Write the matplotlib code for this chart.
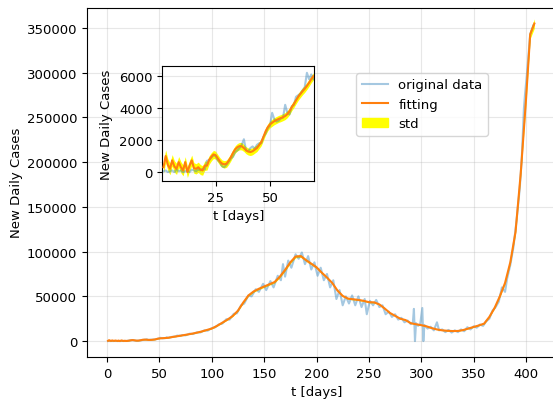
import matplotlib
matplotlib.use("Agg")
import matplotlib.pyplot as plt
from matplotlib.patches import Patch
from matplotlib.lines import Line2D

plt.rcParams['font.size'] = 9.5

# ---- Early period (days 1-70), shown in the inset ----
early_days = list(range(1, 71))
early_orig = [50, 100, 0, 50, 100, 0, 150, 50, 100, 0,
              50, 100, 0, 150, 100, 50, 150, 100, 200, 150,
              700, 750, 900, 1050, 1000, 750, 600, 350, 300, 450,
              650, 850, 950, 1250, 1350, 1500, 1700, 2050, 1350, 1300,
              1500, 1600, 1450, 1700, 1800, 1800, 2200, 2400, 2750, 2900,
              3700, 3300, 3150, 3200, 3350, 3400, 4200, 3700, 3600, 4100,
              4200, 4700, 4800, 4900, 5100, 5300, 6200, 5800, 6100, 5800]
early_fit = [300, 1000, 450, 200, 730, 350, 200, 620, 300, 100,
             620, 0, 400, 730, 250, 200, 300, 150, 100, 400,
             400, 750, 950, 1100, 1050, 850, 650, 520, 480, 520,
             700, 930, 1200, 1420, 1550, 1620, 1610, 1500, 1360, 1280,
             1250, 1300, 1400, 1500, 1680, 1870, 2200, 2550, 2800, 2980,
             3080, 3180, 3250, 3320, 3370, 3430, 3500, 3620, 3800, 4050,
             4250, 4480, 4700, 4880, 5050, 5200, 5380, 5580, 5800, 5980]
early_std = [380, 380, 370, 370, 360, 360, 350, 350, 350, 340,
             340, 340, 330, 330, 330, 320, 320, 310, 300, 290,
             280, 270, 260, 250, 250, 240, 240, 230, 230, 230,
             230, 230, 230, 230, 230, 230, 230, 220, 220, 220,
             220, 220, 220, 220, 220, 220, 220, 220, 220, 220,
             220, 220, 220, 220, 220, 220, 220, 220, 220, 220,
             220, 220, 220, 220, 220, 220, 220, 220, 220, 220]

# ---- Later period (after day 70) ----
late_orig_days = [72, 75, 79, 82, 86, 89, 93, 96, 100, 103, 107, 110, 114, 117,
                  121, 124, 128, 131, 135, 138, 142, 145, 149, 152, 156, 159,
                  163, 166, 168, 170, 173, 176, 180, 183, 186, 189, 192, 195,
                  198, 201, 204, 207, 210, 213, 216, 219, 222, 225, 228, 231,
                  234, 237, 240, 243, 246, 248, 251, 254, 257, 260, 263, 266,
                  269, 272, 275, 278, 281, 284, 287, 290, 292, 293, 294, 295,
                  297, 299, 301, 302, 303, 306, 309, 312, 315, 317, 320, 323,
                  326, 329, 332, 335, 338, 341, 344, 347, 350, 353, 356, 359,
                  362, 365, 368, 371, 374, 377, 380, 382, 385, 388, 391, 394,
                  396, 398, 399, 401, 404, 407]
late_orig = [6700, 6400, 8300, 7900, 9800, 9600, 12000, 11600, 14500, 15200,
             18800, 19500, 24500, 24000, 30500, 31000, 40000, 42000, 51000,
             50000, 58000, 55000, 64000, 57000, 67000, 60000, 73000, 68000,
             86000, 72000, 90000, 82000, 97000, 92000, 99000, 86000, 95000,
             80000, 88000, 73000, 82000, 68000, 75000, 60000, 68000, 47000,
             57000, 40000, 50000, 42000, 51000, 40000, 50000, 38000, 47000,
             30000, 45000, 40000, 46000, 38000, 40000, 30000, 33000, 27000,
             30000, 24000, 26000, 21000, 23000, 19000, 21000, 36000, 0,
             20000, 17000, 19000, 37000, 0, 18000, 14000, 16000, 12000,
             21000, 12000, 13000, 10000, 12500, 9500, 12000, 10000, 13000,
             11000, 15500, 13000, 16500, 15000, 18500, 17000, 22000, 25000,
             34000, 38000, 44000, 60000, 55000, 70000, 85000, 105000, 135000,
             170000, 205000, 260000, 275000, 300000, 343000, 353000]

late_fit_days = [75, 80, 85, 90, 95, 100, 105, 110, 115, 120, 125, 130, 135,
                 140, 145, 150, 155, 160, 165, 170, 175, 180, 185, 190, 195,
                 200, 205, 210, 215, 220, 225, 230, 235, 240, 245, 250, 255,
                 260, 265, 270, 275, 280, 285, 290, 295, 300, 305, 310, 315,
                 320, 325, 330, 335, 340, 345, 350, 355, 360, 365, 370, 375,
                 380, 385, 390, 395, 400, 404, 408]
late_fit = [7000, 8000, 9200, 10600, 12300, 14000, 17000, 20500, 24000, 28000,
            34000, 43000, 51000, 55500, 58500, 61000, 63500, 66000, 72000,
            79500, 88000, 94500, 95000, 90500, 86500, 82500, 76500, 71000,
            65000, 56500, 50500, 47500, 46800, 46000, 45000, 43500, 43300,
            41000, 36500, 31500, 28300, 25000, 23500, 20000, 18800, 17800,
            16500, 14500, 13000, 12000, 11500, 11200, 11300, 12300, 14000,
            15600, 17500, 19500, 27000, 37000, 50000, 65000, 88000, 122000,
            188000, 270000, 343000, 355000]
late_std = [250, 260, 280, 300, 330, 360, 400, 450, 500, 560, 650, 750, 850,
            900, 950, 1000, 1000, 1050, 1100, 1200, 1300, 1400, 1400, 1350,
            1300, 1250, 1200, 1100, 1000, 900, 800, 750, 750, 700, 700, 700,
            700, 650, 600, 550, 500, 450, 420, 380, 350, 330, 300, 280, 260,
            250, 240, 240, 240, 250, 270, 300, 330, 360, 450, 600, 800, 1000,
            1400, 1900, 2800, 4000, 5000, 5200]

orig_days = early_days + late_orig_days
orig_vals = early_orig + late_orig
fit_days = early_days + late_fit_days
fit_vals = early_fit + late_fit
fit_std = early_std + late_std

W, H = 553, 402
fig = plt.figure(figsize=(W / 100, H / 100), dpi=100)

# main axes (right edge beyond the canvas, as in the reference)
L, R, T, B = 87, 600, 8.6, 358
ax = fig.add_axes([L / W, (H - B) / H, (R - L) / W, (B - T) / H])

lo = [f - s for f, s in zip(fit_vals, fit_std)]
hi = [f + s for f, s in zip(fit_vals, fit_std)]
ax.fill_between(fit_days, lo, hi, color='yellow', lw=0, zorder=1)
ax.plot(orig_days, orig_vals, color='tab:blue', alpha=0.4, lw=1.5, zorder=2)
ax.plot(fit_days, fit_vals, color='tab:orange', lw=1.5, zorder=3)
ax.set_xlim(-19.1, (R - 107) / 1.0475)
ax.set_ylim(-17800, 372800)
ax.set_xticks([0, 50, 100, 150, 200, 250, 300, 350, 400])
ax.set_yticks([0, 50000, 100000, 150000, 200000, 250000, 300000, 350000])
ax.grid(True, alpha=0.3)
ax.set_xlabel('t [days]', x=(317 - L) / (R - L), ha='center')
ax.set_ylabel('New Daily Cases', labelpad=3)

handles = [Line2D([], [], color='tab:blue', alpha=0.4, lw=1.5),
           Line2D([], [], color='tab:orange', lw=1.5),
           Patch(facecolor='yellow', edgecolor='yellow')]
ax.legend(handles, ['original data', 'fitting', 'std'],
          loc='upper right', borderaxespad=0,
          bbox_to_anchor=((488 - L) / (R - L), (B - 74) / (B - T)))

# inset axes
iL, iR, iT, iB = 162.3, 314.3, 67, 182
axin = fig.add_axes([iL / W, (H - iB) / H, (iR - iL) / W, (iB - iT) / H])
elo = [f - s for f, s in zip(early_fit, early_std)]
ehi = [f + s for f, s in zip(early_fit, early_std)]
axin.fill_between(early_days, elo, ehi, color='yellow', lw=0, zorder=1)
axin.plot(early_days, early_orig, color='tab:blue', alpha=0.4, lw=1.5, zorder=2)
axin.plot(early_days, early_fit, color='tab:orange', lw=1.5, zorder=3)
axin.set_xlim(0.45, 70.4)
axin.set_ylim(-560, 6625)
axin.set_xticks([25, 50])
axin.set_yticks([0, 2000, 4000, 6000])
axin.grid(True, alpha=0.3)
axin.set_xlabel('t [days]')
axin.set_ylabel('New Daily Cases')

fig.savefig('out.png', dpi=100)
